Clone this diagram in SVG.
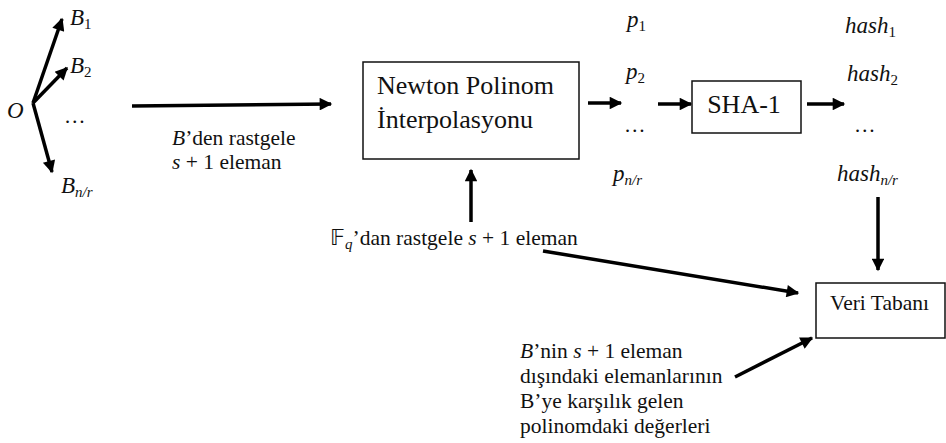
<svg xmlns="http://www.w3.org/2000/svg" width="946" height="443" viewBox="0 0 946 443">
<style>
text{font-family:'Times New Roman','Liberation Serif',serif;fill:#111;font-size:21.5px}
.m{font-style:italic}
.mv{font-style:italic;font-size:23px}
.sub{font-size:15px}
.big{font-size:26px}
.box{fill:#fff;stroke:#111;stroke-width:1.5}
.c{stroke:#000;stroke-width:3.5;fill:none;marker-end:url(#ah)}
</style>
<defs>
<marker id="ah" viewBox="0 0 10 10" refX="9" refY="5" markerWidth="5.6" markerHeight="3.6" orient="auto" markerUnits="strokeWidth">
<path d="M0,0 L10,5 L0,10 z" fill="#000"/>
</marker>
</defs>
<g id="connectors">
<line class="c" x1="33" y1="103" x2="62" y2="19"/>
<line class="c" x1="33" y1="103" x2="67" y2="68"/>
<line class="c" x1="33" y1="103" x2="52" y2="172"/>
<line class="c" x1="132" y1="106" x2="331" y2="104"/>
<line class="c" x1="588" y1="103" x2="621" y2="103"/>
<line class="c" x1="658" y1="104" x2="691" y2="104"/>
<line class="c" x1="807" y1="104" x2="844" y2="104"/>
<line class="c" x1="878" y1="197" x2="878" y2="270"/>
<line class="c" x1="471" y1="222" x2="471" y2="170"/>
<line class="c" x1="543" y1="251" x2="798" y2="293"/>
<line class="c" x1="735" y1="377" x2="812" y2="338"/>
</g>
<g id="vectors">
<text class="mv" x="7" y="118">O</text>
<text class="mv" x="70" y="25">B<tspan class="sub" font-style="normal" dy="4">1</tspan></text>
<text class="mv" x="70" y="73">B<tspan class="sub" font-style="normal" dy="4">2</tspan></text>
<text x="64" y="123">…</text>
<text class="mv" x="61" y="193">B<tspan class="sub" dy="4">n/r</tspan></text>
</g>
<g id="label-b">
<text x="172" y="145"><tspan class="m">B</tspan>’den rastgele</text>
<text x="172" y="169"><tspan class="m">s</tspan> + 1 eleman</text>
</g>
<g id="newton">
<rect class="box" x="363" y="62" width="216" height="97"/>
<text class="big" x="377" y="94">Newton Polinom</text>
<text class="big" x="377" y="128">İnterpolasyonu</text>
</g>
<g id="polys">
<text class="mv" x="627" y="27">p<tspan class="sub" font-style="normal" dy="4">1</tspan></text>
<text class="mv" x="626" y="79">p<tspan class="sub" font-style="normal" dy="4">2</tspan></text>
<text x="624" y="132">…</text>
<text class="mv" x="613" y="181">p<tspan class="sub" dy="4">n/r</tspan></text>
</g>
<g id="sha1">
<rect class="box" x="692" y="81" width="109" height="52"/>
<text class="big" x="744" y="113" text-anchor="middle">SHA-1</text>
</g>
<g id="hashes">
<text class="mv" x="845" y="33">hash<tspan class="sub" font-style="normal" dy="4">1</tspan></text>
<text class="mv" x="847" y="81">hash<tspan class="sub" font-style="normal" dy="4">2</tspan></text>
<text x="854" y="132">…</text>
<text class="mv" x="837" y="181">hash<tspan class="sub" dy="4">n/r</tspan></text>
</g>
<g id="fq">
<text x="330" y="245">𝔽<tspan class="m sub" dy="4">q</tspan><tspan dy="-4">’dan rastgele </tspan><tspan class="m">s</tspan> + 1 eleman</text>
</g>
<g id="veritabani">
<rect class="box" x="816" y="283" width="129" height="55"/>
<text x="830" y="310">Veri Tabanı</text>
</g>
<g id="label-bottom">
<text x="520" y="358"><tspan class="m">B</tspan>’nin <tspan class="m">s</tspan> + 1 eleman</text>
<text x="520" y="383">dışındaki elemanlarının</text>
<text x="520" y="408">B’ye karşılık gelen</text>
<text x="520" y="433">polinomdaki değerleri</text>
</g>
</svg>
